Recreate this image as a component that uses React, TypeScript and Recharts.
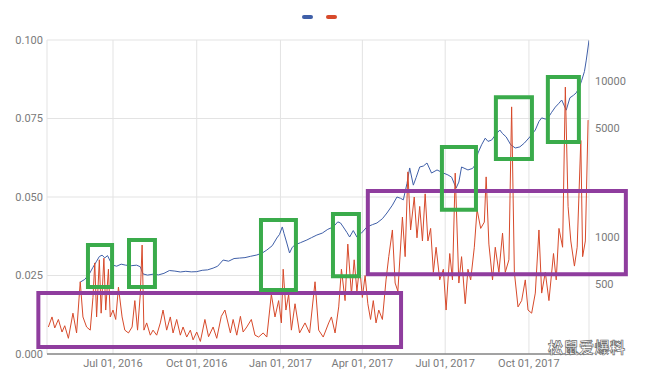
import React from 'react';
import { LineChart, Line, XAxis, YAxis, CartesianGrid, ReferenceArea, ReferenceLine } from 'recharts';

// x values are days counted from Jul 01, 2016
const tickDays = [0, 92, 184, 274, 365, 457];
const tickLabels = ['Jul 01, 2016', 'Oct 01, 2016', 'Jan 01, 2017', 'Apr 01, 2017', 'Jul 01, 2017', 'Oct 01, 2017'];
const leftTicks = [0, 0.025, 0.05, 0.075, 0.1];
const rightTicks = [500, 1000, 5000, 10000];

const priceDays = [
  -36, -31, -26, -22, -18, -15, -12, -9, -6, -3, 0, 4, 9, 14, 20, 26, 30, 33, 38, 44, 50, 56, 62, 68, 74, 80, 86, 92,
  98, 104, 110, 115, 121, 127, 133, 139, 145, 151, 158, 164, 169, 175, 180, 183, 186, 188, 191, 194, 197, 200, 206, 213,
  218, 224, 230, 236, 242, 247, 250, 253, 257, 260, 264, 268, 273, 279, 285, 290, 296, 301, 307, 312, 316, 319, 323, 326,
  330, 333, 337, 341, 345, 350, 356, 363, 368, 372, 377, 380, 383, 390, 395, 398, 401, 405, 409, 412, 416, 420, 425, 428,
  432, 437, 442, 447, 452, 458, 464, 468, 471, 475, 478, 482, 486, 490, 493, 498, 502, 506, 509, 512, 515, 518, 520, 523,
];
const priceValues = [
  514, 535, 580, 640, 700, 750, 765, 735, 760, 700, 660, 650, 670, 660, 655, 660, 645, 580, 570, 578, 572, 585, 610, 605,
  597, 603, 598, 600, 612, 616, 632, 650, 712, 700, 728, 733, 738, 752, 767, 790, 825, 880, 985, 1040, 1160, 1050, 915,
  790, 860, 890, 920, 957, 990, 1030, 1060, 1120, 1160, 1250, 1230, 1160, 1070, 1000, 1100, 1000, 1060, 1160, 1200, 1230,
  1310, 1425, 1600, 1805, 1770, 1730, 2200, 2770, 2150, 2400, 2810, 2850, 2980, 2570, 2690, 2570, 2500, 2420, 2060, 2250,
  2810, 2690, 2750, 2900, 3450, 3900, 4300, 4100, 4180, 4500, 4850, 4600, 4380, 3900, 3720, 3780, 4000, 4380, 4850, 5500,
  5800, 5700, 5800, 6300, 6800, 7200, 7550, 6500, 7800, 8100, 8400, 9000, 10100, 11500, 13600, 18200,
];

const ratioDays = [
  -71, -67, -64, -60, -56, -53, -49, -44, -40, -36, -33, -29, -25, -22, -20, -18, -15, -13, -10, -8, -5, -3, 0, 3, 6, 10,
  13, 17, 21, 24, 27, 30, 32, 34, 37, 41, 44, 48, 52, 55, 59, 63, 66, 70, 74, 77, 81, 85, 88, 92, 96, 101, 105, 110, 114,
  119, 123, 129, 132, 136, 140, 143, 147, 152, 156, 160, 165, 169, 174, 178, 182, 185, 187, 190, 193, 196, 200, 205, 211,
  216, 222, 226, 231, 237, 240, 244, 248, 251, 255, 258, 262, 265, 268, 271, 274, 277, 280, 283, 286, 289, 292, 296, 300,
  303, 307, 310, 313, 318, 321, 324, 327, 331, 334, 337, 340, 343, 346, 349, 352, 355, 359, 363, 366, 370, 373, 376, 380,
  383, 387, 390, 393, 397, 400, 404, 408, 410, 413, 417, 420, 424, 428, 431, 435, 438, 441, 445, 449, 453, 456, 460, 464,
  468, 471, 475, 479, 484, 487, 490, 494, 497, 500, 503, 507, 510, 514, 516, 519, 522,
];
const ratioValues = [
  0.0086, 0.0118, 0.0083, 0.011, 0.007, 0.009, 0.005, 0.013, 0.0067, 0.023, 0.0118, 0.0086, 0.0076, 0.018, 0.029, 0.0118,
  0.03, 0.013, 0.0305, 0.014, 0.027, 0.0118, 0.014, 0.011, 0.0213, 0.0118, 0.0076, 0.0067, 0.0086, 0.017, 0.0076, 0.019,
  0.0347, 0.0076, 0.0099, 0.006, 0.0076, 0.006, 0.0099, 0.014, 0.0076, 0.0118, 0.0067, 0.011, 0.006, 0.0086, 0.0054,
  0.0076, 0.0045, 0.007, 0.004, 0.011, 0.0055, 0.0086, 0.005, 0.012, 0.014, 0.0067, 0.011, 0.006, 0.012, 0.007, 0.0086,
  0.011, 0.006, 0.0054, 0.0067, 0.0054, 0.019, 0.0118, 0.017, 0.0099, 0.027, 0.014, 0.019, 0.0076, 0.016, 0.0067, 0.0099,
  0.0067, 0.023, 0.0076, 0.0054, 0.0099, 0.0118, 0.0067, 0.015, 0.027, 0.017, 0.035, 0.019, 0.03, 0.02, 0.028, 0.018,
  0.025, 0.016, 0.011, 0.017, 0.0099, 0.014, 0.011, 0.0236, 0.031, 0.0395, 0.0226, 0.02, 0.0436, 0.031, 0.058, 0.0395,
  0.05, 0.037, 0.047, 0.036, 0.051, 0.036, 0.04, 0.026, 0.034, 0.0236, 0.027, 0.014, 0.032, 0.0236, 0.0576, 0.0226, 0.031,
  0.016, 0.027, 0.0236, 0.034, 0.046, 0.04, 0.042, 0.0564, 0.035, 0.0236, 0.034, 0.026, 0.0385, 0.026, 0.03, 0.0787,
  0.026, 0.015, 0.017, 0.0236, 0.014, 0.013, 0.0194, 0.0395, 0.0194, 0.026, 0.017, 0.032, 0.0236, 0.04, 0.034, 0.085,
  0.047, 0.036, 0.028, 0.034, 0.068, 0.031, 0.036, 0.0745,
];

// annotation boxes: [day from, day to, ratio from, ratio to]
const greenBoxes = [
  [-27.5, -1, 0.0213, 0.0347],
  [17.6, 46.1, 0.0213, 0.0363],
  [162.6, 201, 0.0204, 0.0427],
  [241.7, 270.2, 0.0248, 0.0446],
  [361.4, 398.8, 0.0459, 0.0659],
  [420.7, 460.3, 0.0621, 0.0818],
  [477.8, 511.9, 0.0675, 0.0882],
];
const purpleBoxes = [
  [-82, 316.5, 0.0022, 0.0194],
  [280, 563.5, 0.0254, 0.0519],
];

const seriesNames = ['price', 'ratio'];

const byDay = new Map<number, any>();
priceDays.forEach((d, i) => {
  byDay.set(d, { ...(byDay.get(d) || { day: d }), price: priceValues[i] });
});
ratioDays.forEach((d, i) => {
  byDay.set(d, { ...(byDay.get(d) || { day: d }), ratio: ratioValues[i] });
});
const data = Array.from(byDay.values()).sort((a, b) => a.day - b.day);

const BLUE = '#3f5fa8';
const RED = '#d74a2b';
const GREEN = '#3aab4b';
const PURPLE = '#8f3d9e';
const tickStyle = { fontFamily: 'Roboto, sans-serif', fontSize: 11, fill: '#7a7a7a' };

export default function App() {
  return (
    <div style={{ position: 'absolute', left: 0, top: 0, width: 645, height: 376, background: '#fff' }}>
      <LineChart width={645} height={376} data={data} margin={{ top: 40, right: 0, bottom: 0, left: 0 }}>
        <CartesianGrid yAxisId="left" stroke="#e3e3e3" strokeWidth={1} />
        <XAxis
          dataKey="day"
          type="number"
          domain={[-72.5, 523]}
          allowDataOverflow
          ticks={tickDays}
          tickFormatter={(v: number) => tickLabels[tickDays.indexOf(v)] ?? ''}
          axisLine={false}
          tickLine={false}
          tickSize={0}
          tickMargin={5}
          height={22}
          tick={tickStyle}
          interval={0}
        />
        <YAxis
          yAxisId="left"
          domain={[0, 0.1]}
          ticks={leftTicks}
          tickFormatter={(v: number) => v.toFixed(3)}
          axisLine={false}
          tickLine={false}
          tickSize={0}
          tickMargin={4}
          width={47}
          tick={tickStyle}
          allowDataOverflow
        />
        <YAxis
          yAxisId="right"
          orientation="right"
          scale="log"
          domain={[178, 18300]}
          ticks={rightTicks}
          allowDataOverflow
          axisLine={false}
          tickLine={false}
          tickSize={0}
          tickMargin={6}
          width={56}
          tick={tickStyle}
        />
        <ReferenceLine yAxisId="left" y={0} stroke="#555" strokeWidth={1} />
        <Line
          yAxisId="right"
          dataKey={seriesNames[0]}
          stroke={BLUE}
          strokeWidth={1}
          dot={false}
          connectNulls
          isAnimationActive={false}
        />
        <Line
          yAxisId="left"
          dataKey={seriesNames[1]}
          stroke={RED}
          strokeWidth={1}
          dot={false}
          connectNulls
          isAnimationActive={false}
        />
        {purpleBoxes.map((b, i) => (
          <ReferenceArea
            key={'p' + i}
            yAxisId="left"
            x1={b[0]}
            x2={b[1]}
            y1={b[2]}
            y2={b[3]}
            fill="none"
            stroke={PURPLE}
            strokeWidth={4}
            ifOverflow="visible"
            zIndex={1500}
          />
        ))}
        {greenBoxes.map((b, i) => (
          <ReferenceArea
            key={'g' + i}
            yAxisId="left"
            x1={b[0]}
            x2={b[1]}
            y1={b[2]}
            y2={b[3]}
            fill="none"
            stroke={GREEN}
            strokeWidth={4}
            ifOverflow="visible"
            zIndex={1600}
          />
        ))}
      </LineChart>
      <div style={{ position: 'absolute', left: 302, top: 15, display: 'flex', gap: 13 }}>
        <span style={{ display: 'block', width: 11, height: 4, borderRadius: 2, background: BLUE }} />
        <span style={{ display: 'block', width: 11, height: 4, borderRadius: 2, background: RED }} />
      </div>
      <div
        style={{
          position: 'absolute',
          left: 548,
          top: 339,
          height: 16,
          fontFamily: '"Noto Sans CJK SC", sans-serif',
          fontSize: 15,
          lineHeight: '16px',
          fontWeight: 700,
          color: '#fff',
          WebkitTextStroke: '0.7px #6b6b6b',
          letterSpacing: 0.5,
          whiteSpace: 'nowrap',
        }}
      >
        松鼠爱爆料
      </div>
    </div>
  );
}
